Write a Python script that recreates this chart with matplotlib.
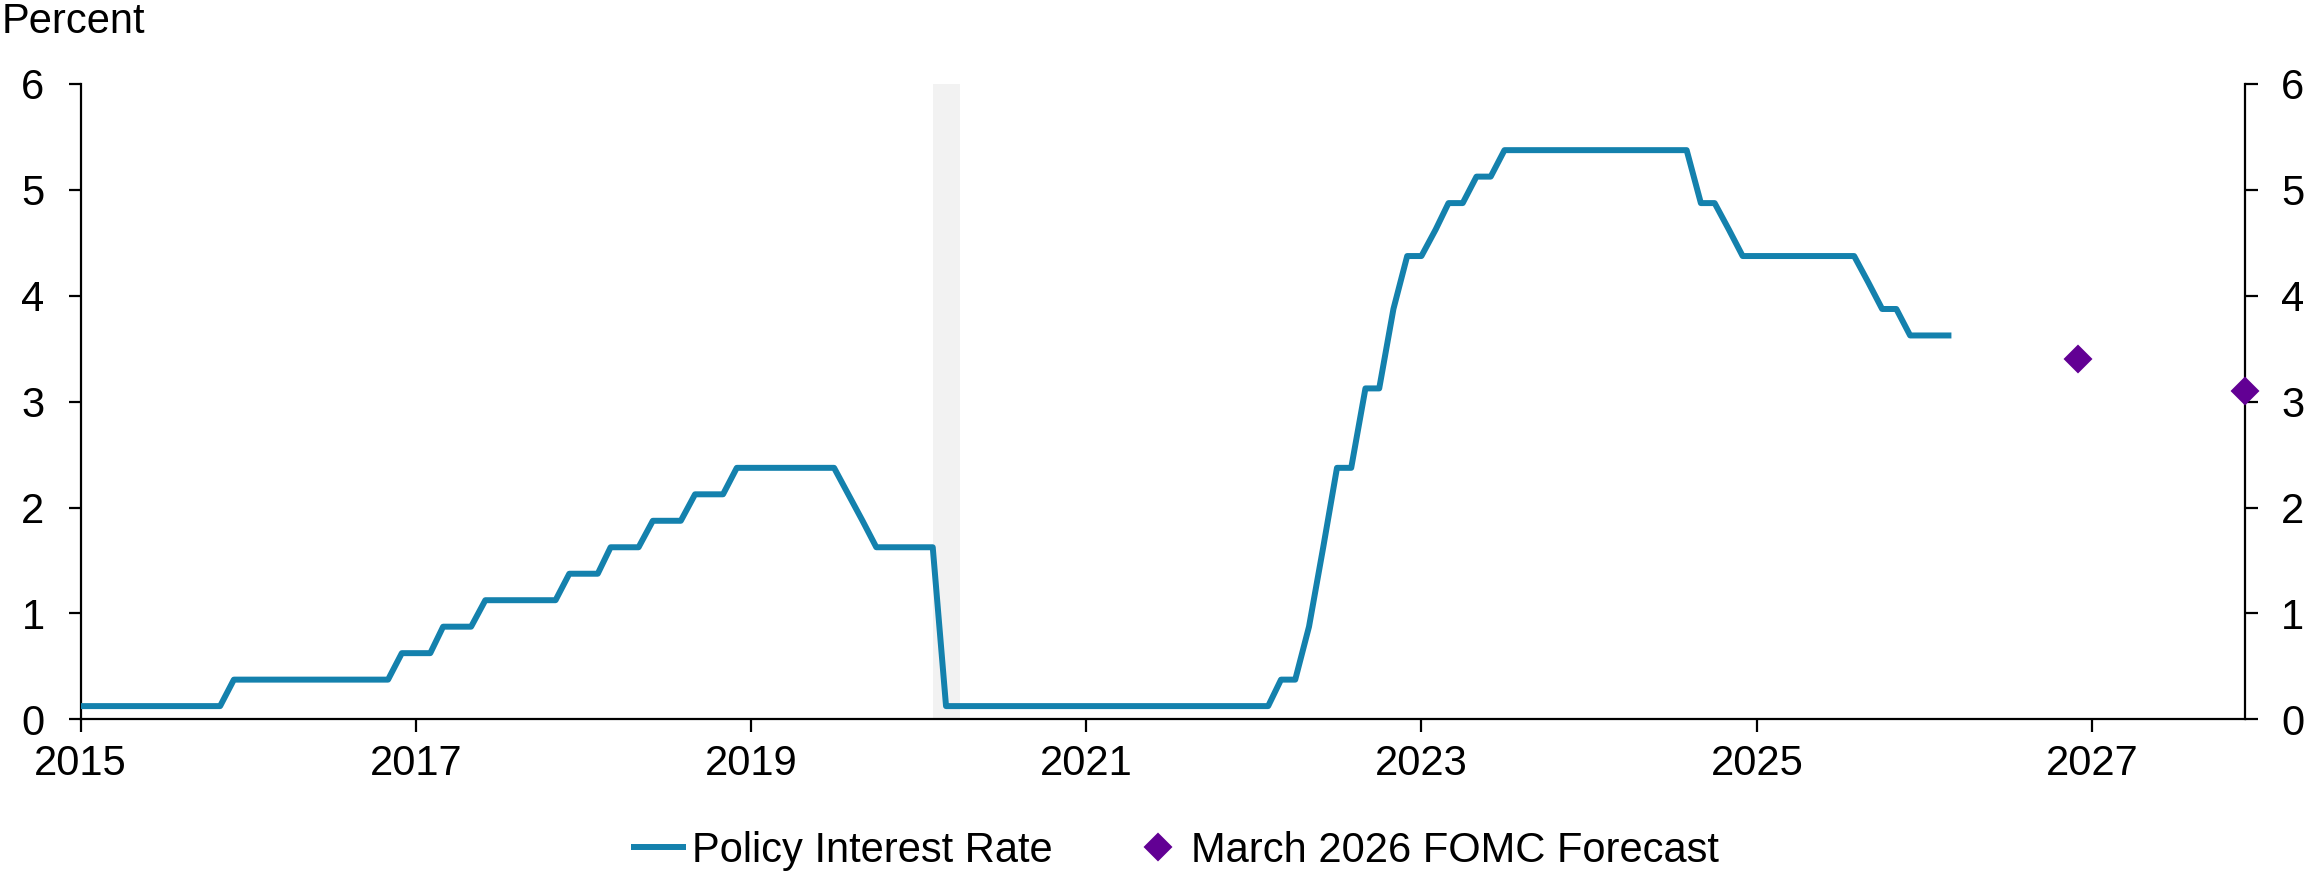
import numpy as np
import pandas as pd
import matplotlib
matplotlib.use("Agg")
import matplotlib.pyplot as plt
import matplotlib.dates as mdates

plt.rcParams['font.family'] = ['Liberation Sans', 'DejaVu Sans']

# policy rate, midpoint of target range, monthly from Jan 2015
rate_2015 = [0.125, 0.125, 0.125, 0.125, 0.125, 0.125, 0.125, 0.125, 0.125, 0.125, 0.125, 0.375]
rate_2016 = [0.375, 0.375, 0.375, 0.375, 0.375, 0.375, 0.375, 0.375, 0.375, 0.375, 0.375, 0.625]
rate_2017 = [0.625, 0.625, 0.875, 0.875, 0.875, 1.125, 1.125, 1.125, 1.125, 1.125, 1.125, 1.375]
rate_2018 = [1.375, 1.375, 1.625, 1.625, 1.625, 1.875, 1.875, 1.875, 2.125, 2.125, 2.125, 2.375]
rate_2019 = [2.375, 2.375, 2.375, 2.375, 2.375, 2.375, 2.375, 2.125, 1.875, 1.625, 1.625, 1.625]
rate_2020 = [1.625, 1.625, 0.125, 0.125, 0.125, 0.125, 0.125, 0.125, 0.125, 0.125, 0.125, 0.125]
rate_2021 = [0.125, 0.125, 0.125, 0.125, 0.125, 0.125, 0.125, 0.125, 0.125, 0.125, 0.125, 0.125]
rate_2022 = [0.125, 0.125, 0.375, 0.375, 0.875, 1.625, 2.375, 2.375, 3.125, 3.125, 3.875, 4.375]
rate_2023 = [4.375, 4.625, 4.875, 4.875, 5.125, 5.125, 5.375, 5.375, 5.375, 5.375, 5.375, 5.375]
rate_2024 = [5.375, 5.375, 5.375, 5.375, 5.375, 5.375, 5.375, 5.375, 4.875, 4.875, 4.625, 4.375]
rate_2025 = [4.375, 4.375, 4.375, 4.375, 4.375, 4.375, 4.375, 4.375, 4.125, 3.875, 3.875, 3.625]
rate_2026 = [3.625, 3.625, 3.625]

rate = (rate_2015 + rate_2016 + rate_2017 + rate_2018 + rate_2019 + rate_2020
        + rate_2021 + rate_2022 + rate_2023 + rate_2024 + rate_2025 + rate_2026)
dates = pd.date_range("2015-01-01", periods=len(rate), freq="MS")

fc_dates = pd.to_datetime(["2026-12-01", "2027-12-01"])
fc_vals = [3.4, 3.1]

recession = ("2020-02-01", "2020-04-01")
year_ticks = [2015, 2017, 2019, 2021, 2023, 2025, 2027]

line_c = "#1481ad"
dot_c = "#620094"
fs = 30

fig = plt.figure(figsize=(23.1, 8.81), dpi=100)
ax = fig.add_axes([0.0349, 0.1835, 0.937, 0.7212])

ax.axvspan(pd.Timestamp(recession[0]), pd.Timestamp(recession[1]), color="#f2f2f2", lw=0, zorder=0)
ax.plot(dates, rate, color=line_c, lw=4.3, solid_joinstyle="round", solid_capstyle="butt",
        label="Policy Interest Rate", zorder=3)
ax.plot(fc_dates, fc_vals, ls="none", marker="D", ms=13, color=dot_c, mec=dot_c, mew=1.5,
        label="March 2026 FOMC Forecast", clip_on=False, zorder=4)

ax.set_xlim(pd.Timestamp("2015-01-01"), pd.Timestamp("2027-12-01"))
ax.set_ylim(0, 6)
ax.set_xticks([pd.Timestamp(f"{y}-01-01") for y in year_ticks])
ax.xaxis.set_major_formatter(mdates.DateFormatter("%Y"))
ax.set_yticks(range(7))

for s in ["left", "right", "bottom"]:
    ax.spines[s].set_linewidth(1.6)
ax.spines["top"].set_visible(False)

ax.tick_params(axis="both", direction="out", width=1.6, length=9, labelsize=fs)
ax.tick_params(axis="y", pad=17, left=True, right=True, labelleft=True, labelright=True)
ax.tick_params(axis="x", pad=9)

fig.text(0.0005, 1 - 33 / 881, "Percent", fontsize=fs, va="baseline", ha="left")

fig.legend(loc="center", bbox_to_anchor=(0.5087, 1 - 851 / 881), ncol=2, frameon=False,
           fontsize=fs, handlelength=1.32, handletextpad=0.15, columnspacing=1.85,
           numpoints=1, borderaxespad=0)

fig.savefig("out.png", dpi=100)
